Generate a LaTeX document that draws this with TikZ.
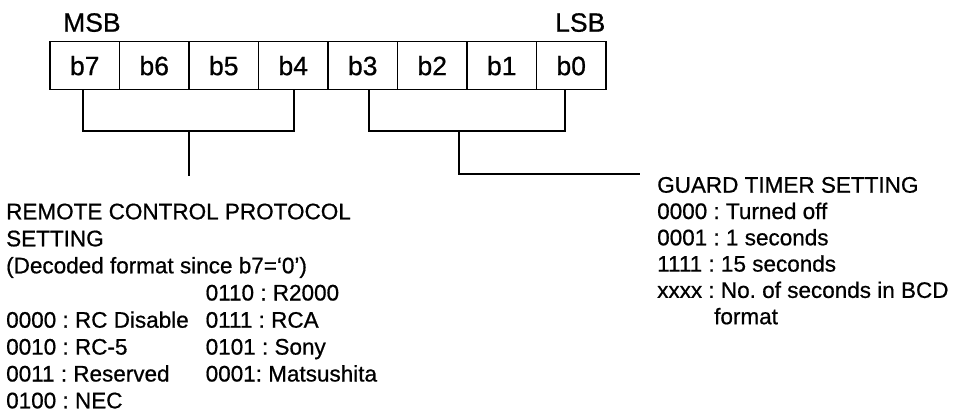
\documentclass[tikz,border=0pt]{standalone}
\usepackage{fontspec}
\setmainfont[FakeBold=0.7]{Liberation Sans}
\frenchspacing
\begin{document}
\begin{tikzpicture}[x=1pt,y=-1pt,
  cell/.style={draw, line width=1.1pt, minimum width=69.5pt, minimum height=47.6pt, inner sep=0pt, text height=19.3pt, text depth=0pt, font=\fontsize{26.5}{30}\selectfont},
  head/.style={inner sep=0pt, font=\fontsize{26.5}{30}\selectfont},
  body/.style={inner sep=0pt, anchor=base west, font=\fontsize{22.5}{27}\selectfont},
  brk/.style={line width=2pt}]
\useasboundingbox (0,0) rectangle (954,415);
% register cells
\foreach \i [count=\k from 0] in {7,6,5,4,3,2,1,0}
  \node[cell] (b\i) at ({84.75+69.5*\k},65.5) {b\i};
\node[head, anchor=base west] (msb) at (63,31.7) {MSB};
\node[head, anchor=base east] (lsb) at (605.5,31.7) {LSB};
% brackets
\coordinate (l1) at ([xshift=-1.4pt]b7.south);
\coordinate (l2) at ([xshift=1pt]b4.south);
\coordinate (r1) at ([xshift=6.5pt]b3.south);
\coordinate (r2) at ([xshift=-6.3pt]b0.south);
\coordinate (lstem) at (189,130.7);
\coordinate (lend) at (189,175.7);
\coordinate (rstem) at (459.3,130.7);
\coordinate (rcorner) at (459.3,174.3);
\coordinate (rend) at (640,174.3);
\draw[brk] (l1) |- (lstem) -| (l2);
\draw[brk] (lstem) -- (lend);
\draw[brk] (r1) |- (rstem) -| (r2);
\draw[brk] (rstem) -- (rcorner) -- (rend);
% left text
\node[body] (t1) at (6,219.3) {REMOTE CONTROL PROTOCOL};
\node[body] (t2) at (6,246.3) {SETTING};
\node[body] (t3) at (6,273.3) {(Decoded format since b7=‘0’)};
\node[body] (c1) at (6,327.7) {0000 : RC Disable};
\node[body] (c2) at (6,354.6) {0010 : RC-5};
\node[body] (c3) at (6,381.5) {0011 : Reserved};
\node[body] (c4) at (6,408.3) {0100 : NEC};
\node[body] (d1) at (205.5,300.5) {0110 : R2000};
\node[body] (d2) at (205.5,327.7) {0111 : RCA};
\node[body] (d3) at (205.5,354.6) {0101 : Sony};
\node[body] (d4) at (205.5,381.5) {0001: Matsushita};
% right text
\node[body] (g1) at (657,192.7) {GUARD TIMER SETTING};
\node[body] (g2) at (657,219.0) {0000 : Turned off};
\node[body] (g3) at (657,245.3) {0001 : 1 seconds};
\node[body] (g4) at (657,271.6) {1111 : 15 seconds};
\node[body] (g5) at (657,297.9) {xxxx : No. of seconds in BCD};
\node[body] (g6) at (714,324.2) {format};
\end{tikzpicture}
\end{document}
